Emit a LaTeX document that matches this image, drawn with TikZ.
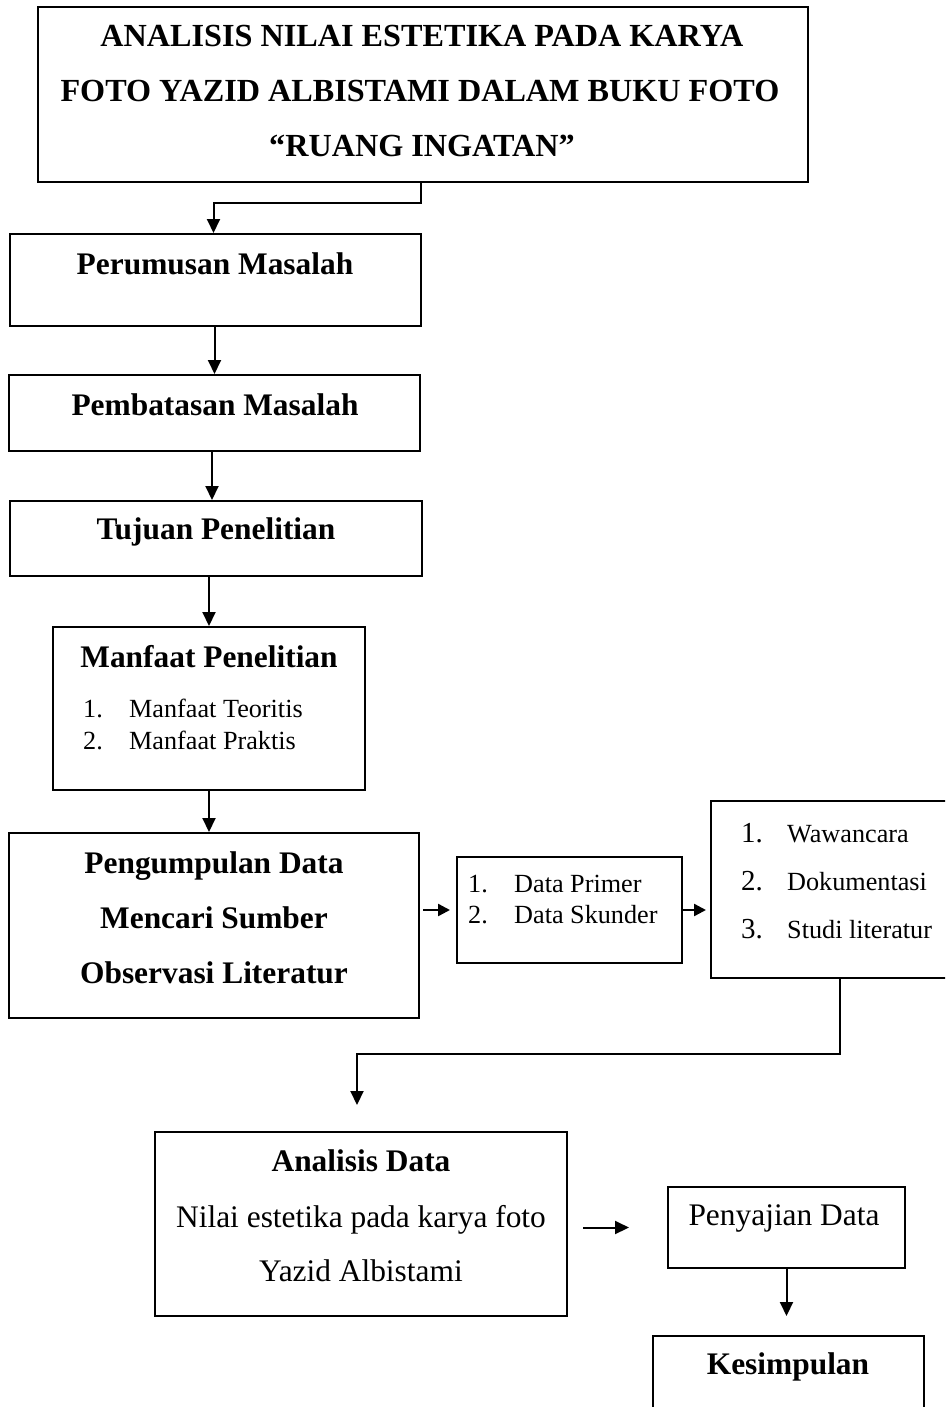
\documentclass[tikz,border=0pt]{standalone}
\usepackage{fontspec}
\setmainfont{Liberation Serif}
\usetikzlibrary{arrows.meta}
\begin{document}
\begin{tikzpicture}[x=1pt,y=-1pt,
  box/.style={draw, line width=2pt, rectangle, inner sep=0pt},
  tt/.style={font=\fontsize{32.2}{32.2}\selectfont\bfseries, inner sep=0pt, anchor=base},
  bt/.style={font=\fontsize{31.4}{31.4}\selectfont\bfseries, inner sep=0pt, anchor=base},
  rt/.style={font=\fontsize{31.4}{31.4}\selectfont, inner sep=0pt, anchor=base},
  st/.style={font=\fontsize{26.2}{26.2}\selectfont, inner sep=0pt, anchor=base west},
  nt/.style={font=\fontsize{29}{29}\selectfont, inner sep=0pt, anchor=base west},
  arr/.style={line width=2pt, -{Triangle[width=13pt,length=14pt]}},
  sarr/.style={line width=2.4pt, -{Triangle[width=12pt,length=12pt]}}]
\useasboundingbox (0,0) rectangle (945,1407);
\clip (0,0) rectangle (945,1407);

% boxes
\node[box, minimum width=770pt, minimum height=175pt] (T) at (423,94.5) {};
\node[box, minimum width=411pt, minimum height=92pt] (P1) at (215.5,280) {};
\node[box, minimum width=411pt, minimum height=76pt] (P2) at (214.5,413) {};
\node[box, minimum width=412pt, minimum height=75pt] (P3) at (216,538.5) {};
\node[box, minimum width=312pt, minimum height=163pt] (P4) at (209,708.5) {};
\node[box, minimum width=410pt, minimum height=185pt] (P5) at (214,925.5) {};
\node[box, minimum width=225pt, minimum height=106pt] (D1) at (569.5,910) {};
\node[box, minimum width=249pt, minimum height=177pt] (D2) at (835.5,889.5) {};
\node[box, minimum width=412pt, minimum height=184pt] (A) at (361,1224) {};
\node[box, minimum width=237pt, minimum height=81pt] (S) at (786.5,1227.5) {};
\node[box, minimum width=271pt, minimum height=94pt] (K) at (788.5,1383) {};

% texts
\node[tt] (t1) at (422,47) {ANALISIS NILAI ESTETIKA PADA KARYA};
\node[tt] (t2) at (420,102) {FOTO YAZID ALBISTAMI DALAM BUKU FOTO};
\node[tt] (t3) at (422,157) {“RUANG INGATAN”};
\node[bt] (p1t) at (215,274) {Perumusan Masalah};
\node[bt] (p2t) at (215,415) {Pembatasan Masalah};
\node[bt] (p3t) at (216,539) {Tujuan Penelitian};
\node[bt] (p4t) at (209,667) {Manfaat Penelitian};
\node[st] (p4n1) at (83,717) {1.};
\node[st] (p4a) at (129,717) {Manfaat Teoritis};
\node[st] (p4n2) at (83,749) {2.};
\node[st] (p4b) at (129,749) {Manfaat Praktis};
\node[bt] (p5a) at (214,873) {Pengumpulan Data};
\node[bt] (p5b) at (214,928) {Mencari Sumber};
\node[bt] (p5c) at (214,983) {Observasi Literatur};
\node[st] (d1n1) at (468,892) {1.};
\node[st] (d1a) at (514,892) {Data Primer};
\node[st] (d1n2) at (468,923) {2.};
\node[st] (d1b) at (514,923) {Data Skunder};
\node[nt] (d2n1) at (741,842) {1.};
\node[st] (d2a) at (787,842) {Wawancara};
\node[nt] (d2n2) at (741,890) {2.};
\node[st] (d2b) at (787,890) {Dokumentasi};
\node[nt] (d2n3) at (741,938) {3.};
\node[st] (d2c) at (787,938) {Studi literatur};
\node[bt] (aa) at (361,1171) {Analisis Data};
\node[rt] (ab) at (361,1227) {Nilai estetika pada karya foto};
\node[rt] (ac) at (361,1281) {Yazid Albistami};
\node[rt] (st1) at (784,1225) {Penyajian Data};
\node[bt] (kt) at (788,1374) {Kesimpulan};

% connectors
\coordinate (c1) at (421,203);
\draw[arr] (T.south -| c1) -- (c1) -| ([xshift=-2pt]P1.north);
\draw[arr] ([xshift=-1pt]P1.south) -- ([xshift=-1pt]P1.south |- P2.north);
\draw[arr] ([xshift=-2.5pt]P2.south) -- ([xshift=-2.5pt]P2.south |- P3.north);
\draw[arr] (P4.north |- P3.south) -- (P4.north);
\draw[arr] (P4.south) -- (P4.south |- P5.north);
\draw[sarr, shorten <=3pt, shorten >=6pt] (P5.east |- D1.west) -- (D1.west);
\draw[sarr, shorten >=4pt] (D1.east) -- (D1.east -| D2.west);
\coordinate (c2) at (840,1054);
\coordinate (c3) at (357,1054);
\draw[arr, shorten >=26pt] (D2.south -| c2) -- (c2) -- (c3) -- (c3 |- A.north);
\draw[arr, shorten <=15pt, shorten >=38pt] (A.east |- S.west) -- (S.west);
\draw[arr, shorten >=19pt] (S.south) -- (S.south |- K.north);
\end{tikzpicture}
\end{document}
